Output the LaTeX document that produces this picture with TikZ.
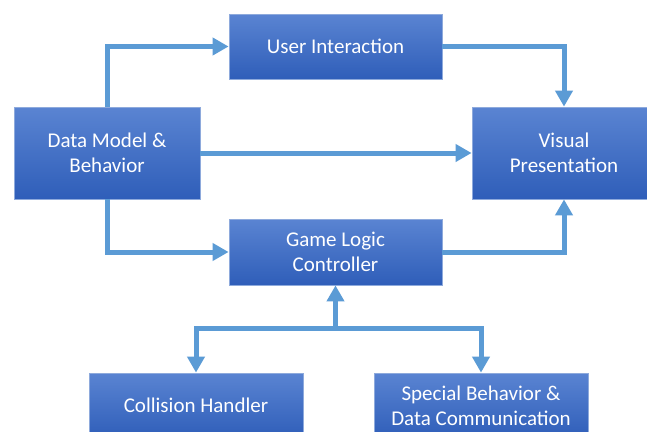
\documentclass[tikz,border=0pt]{standalone}
\usepackage{fontspec}
\setmainfont{Carlito}
\usetikzlibrary{arrows.meta}
\definecolor{boxtop}{HTML}{5A84D2}
\definecolor{boxbot}{HTML}{2F5EB9}
\definecolor{boxedge}{HTML}{8EAADC}
\definecolor{arrcol}{HTML}{5B9BD5}
\tikzset{
  blk/.style={rectangle, draw=boxedge, line width=0.8pt, top color=boxtop, bottom color=boxbot,
    text=white, align=center, inner sep=0pt, font=\fontsize{21}{25}\selectfont},
  arr/.style={draw=arrcol, line width=5pt, -{Triangle[length=16pt,width=17pt]}},
}
\begin{document}
\begin{tikzpicture}[x=1pt,y=-1pt]
\clip (0,0) rectangle (647,431);
\fill[white] (0,0) rectangle (647,431);
\node[blk, minimum width=213pt, minimum height=65pt] (ui) at (335.5,46.5) {User Interaction};
\node[blk, minimum width=186pt, minimum height=92pt] (dm) at (107,153) {Data Model \&\\Behavior};
\node[blk, minimum width=184pt, minimum height=92pt] (vp) at (564,153) {Visual\\Presentation};
\node[blk, minimum width=213pt, minimum height=66pt] (gl) at (335.5,252) {Game Logic\\Controller};
\node[blk, minimum width=214pt, minimum height=65pt] (ch) at (196,405.5) {Collision Handler};
\node[blk, minimum width=214pt, minimum height=65pt] (sb) at (481,405.5) {Special Behavior \&\\Data Communication};
\coordinate (j) at (335.5,328);
\draw[arr] (dm.north) |- (ui.west);
\draw[arr] (ui.east) -| (vp.north);
\draw[arr] (dm.east) -- (vp.west);
\draw[arr] (dm.south) |- (gl.west);
\draw[arr] (gl.east) -| (vp.south);
\draw[arr] (j) -- (gl.south);
\draw[arr] (j) -| (ch.north);
\draw[arr] (j) -| (sb.north);
\end{tikzpicture}
\end{document}
